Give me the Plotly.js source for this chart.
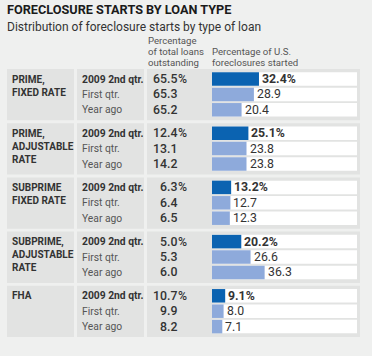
<!DOCTYPE html>
<html><head><meta charset="utf-8">
<script src="https://cdn.plot.ly/plotly-3.0.1.min.js"></script>
<style>html,body{margin:0;padding:0;background:#eff0ef;}#chart{width:372px;height:356px;}</style>
</head><body><div id="chart"></div>
<script>
// ---- data ----
const loanTypes = ["PRIME,<br>FIXED RATE", "PRIME,<br>ADJUSTABLE<br>RATE", "SUBPRIME<br>FIXED RATE", "SUBPRIME,<br>ADJUSTABLE<br>RATE", "FHA"];
const periods = ["2009 2nd qtr.", "First qtr.", "Year ago"];
const loansQ2 = [65.5, 12.4, 6.3, 5.0, 10.7];
const loansQ1 = [65.3, 13.1, 6.4, 5.3, 9.9];
const loansYearAgo = [65.2, 14.2, 6.5, 6.0, 8.2];
const foreclosuresQ2 = [32.4, 25.1, 13.2, 20.2, 9.1];
const foreclosuresQ1 = [28.9, 23.8, 12.7, 26.6, 8.0];
const foreclosuresYearAgo = [20.4, 23.8, 12.3, 36.3, 7.1];

// ---- layout helpers ----
const W = 372, H = 356;
const FONT = "Roboto, Arial, sans-serif";
const TXT = "#333333";
const px = v => v / W;
const groupPitch = 54.2, rowPitch = 15.4, firstRow = 79;
const rowY = (g, r) => firstRow + g * groupPitch + r * rowPitch;

const loans = [loansQ2, loansQ1, loansYearAgo];
const fcl = [foreclosuresQ2, foreclosuresQ1, foreclosuresYearAgo];

const ys = [], trackX = [], barX = [], colors = [];
for (let g = 0; g < loanTypes.length; g++) {
  for (let r = 0; r < 3; r++) {
    ys.push(rowY(g, r));
    trackX.push(100);
    barX.push(fcl[r][g]);
    colors.push(r === 0 ? "#0b63b1" : "#8eaadb");
  }
}

const traces = [
  {type: "bar", orientation: "h", x: trackX, y: ys, width: 13.5, marker: {color: "#ffffff"}, hoverinfo: "skip"},
  {type: "bar", orientation: "h", x: barX, y: ys, width: 13.5, marker: {color: colors}, hoverinfo: "skip"}
];

const shapes = [];
const ann = [];
for (let g = 0; g < loanTypes.length; g++) {
  const top = rowY(g, 0) - 10, bot = rowY(g, 2) + 10.5;
  [[7, 74], [77, 144], [147, 360]].forEach(([a, b]) => {
    shapes.push({type: "rect", layer: "below", xref: "paper", yref: "y", x0: px(a), x1: px(b), y0: top, y1: bot,
      fillcolor: "#e2e3e2", line: {width: 0}});
  });
  ann.push({xref: "paper", yref: "y", x: px(10), y: top + 2.5, xanchor: "left", yanchor: "top", align: "left",
    text: "<b>" + loanTypes[g] + "</b>", showarrow: false, font: {family: FONT, size: 10, color: TXT}});
  for (let r = 0; r < 3; r++) {
    const y = rowY(g, r);
    ann.push({xref: "paper", yref: "y", x: px(80), y: y, xanchor: "left", yanchor: "middle",
      text: r === 0 ? "<b>" + periods[r] + "</b>" : periods[r], showarrow: false,
      font: {family: FONT, size: 10.3, color: r === 0 ? TXT : "#555"}});
    ann.push({xref: "paper", yref: "y", x: px(179), y: y, xanchor: "right", yanchor: "middle",
      text: loans[r][g].toFixed(1), showarrow: false, font: {family: FONT, size: 12.3, color: TXT, weight: 500}});
    if (r === 0) ann.push({xref: "paper", yref: "y", x: px(176), y: y, xanchor: "left", yanchor: "middle",
      text: "%", showarrow: false, font: {family: FONT, size: 12.3, color: TXT, weight: 500}});
    const v = fcl[r][g].toFixed(1);
    ann.push({xref: "x", yref: "y", x: fcl[r][g], y: y, xanchor: "left", yanchor: "middle", xshift: 1,
      text: r === 0 ? "<b>" + v + "%</b>" : v, showarrow: false, font: {family: FONT, size: 12.3, color: TXT}});
  }
}
// titles & headers
ann.push({xref: "paper", yref: "y", x: px(5), y: 9, xanchor: "left", yanchor: "middle", showarrow: false,
  text: "<b>FORECLOSURE STARTS BY LOAN TYPE</b>", font: {family: FONT, size: 12.7, color: "#1a1a1a"}});
ann.push({xref: "paper", yref: "y", x: px(5), y: 27, xanchor: "left", yanchor: "middle", showarrow: false,
  text: "Distribution of foreclosure starts by type of loan", font: {family: FONT, size: 12, color: TXT}});
[["Percentage", 40.5], ["of total loans", 51.5], ["outstanding", 62]].forEach(([t, y]) =>
  ann.push({xref: "paper", yref: "y", x: px(146), y: y, xanchor: "left", yanchor: "middle", showarrow: false,
    text: t, font: {family: FONT, size: 9.6, color: "#555"}}));
[["Percentage of U.S.", 51.5], ["foreclosures started", 62]].forEach(([t, y]) =>
  ann.push({xref: "paper", yref: "y", x: px(210), y: y, xanchor: "left", yanchor: "middle", showarrow: false,
    text: t, font: {family: FONT, size: 9.6, color: "#555"}}));

const layout = {
  width: W, height: H, margin: {l: 0, r: 0, t: 0, b: 0},
  paper_bgcolor: "#eff0ef", plot_bgcolor: "rgba(0,0,0,0)",
  barmode: "overlay", showlegend: false,
  xaxis: {domain: [px(212), px(357)], range: [0, 100], visible: false, fixedrange: true},
  yaxis: {domain: [0, 1], range: [H, 0], visible: false, fixedrange: true},
  shapes: shapes, annotations: ann
};
Plotly.newPlot("chart", traces, layout, {displayModeBar: false, staticPlot: true});
</script></body></html>
